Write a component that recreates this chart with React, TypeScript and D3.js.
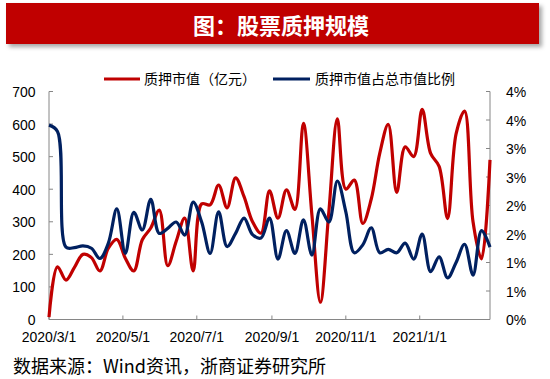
import React from "react";
import * as d3 from "d3";

const title = "图：股票质押规模";
const source = "数据来源：Wind资讯，浙商证券研究所";
const seriesNames = ["质押市值（亿元）", "质押市值占总市值比例"];

// weekly observations starting 2020/3/1
const startDate = "2020-03-01";
const endDate = "2021-02-28";

// 质押市值（亿元）
const pledgeValue = [
  7, 162, 121, 160, 200, 190, 149, 219, 246, 188, 149, 245, 281, 336, 165, 240,
  311, 149, 355, 352, 413, 343, 435, 377, 300, 265, 395, 311, 398, 338, 602, 321,
  53, 331, 616, 400, 428, 295, 370, 510, 599, 390, 530, 500, 645, 510, 470, 310,
  570, 640, 300, 186, 490,
];

// 质押市值占总市值比例 (%)
const pledgeRatio = [
  3.41, 3.3, 1.27, 1.26, 1.29, 1.25, 1.07, 1.34, 1.94, 1.16, 1.88, 1.57, 2.11,
  1.51, 1.6, 1.71, 1.48, 2.06, 1.71, 1.16, 1.89, 1.28, 1.51, 1.78, 1.49, 1.43,
  1.78, 1.06, 1.56, 1.16, 1.75, 1.13, 1.94, 1.71, 2.43, 1.89, 1.17, 1.31, 1.61,
  1.17, 1.23, 1.17, 1.34, 1.06, 1.5, 0.84, 1.1, 0.73, 1.0, 1.32, 0.78, 1.56, 1.27,
];

const leftTicks = [0, 100, 200, 300, 400, 500, 600, 700];
const rightTickValues = [0, 0.5, 1, 1.5, 2, 2.5, 3, 3.5, 4];
const rightTickLabels = ["0%", "1%", "1%", "2%", "2%", "3%", "3%", "4%", "4%"];
const xTickDates = ["2020-03-01", "2020-05-01", "2020-07-01", "2020-09-01", "2020-11-01", "2021-01-01"];
const xTickLabels = ["2020/3/1", "2020/5/1", "2020/7/1", "2020/9/1", "2020/11/1", "2021/1/1"];

const parse = d3.timeParse("%Y-%m-%d");

export default function App() {
  const W = 550;
  const H = 379;
  const plot = { left: 49, right: 490, top: 91.5, bottom: 319.5 };

  const start = parse(startDate) as Date;
  const dates = pledgeValue.map((_, i) => d3.timeDay.offset(start, 7 * i));

  const x = d3
    .scaleTime()
    .domain([start, parse(endDate) as Date])
    .range([plot.left, plot.right]);
  const yL = d3.scaleLinear().domain([0, 700]).range([plot.bottom, plot.top]);
  const yR = d3.scaleLinear().domain([0, 4]).range([plot.bottom, plot.top]);

  const lineL = d3
    .line<number>()
    .x((_, i) => x(dates[i]))
    .y((d) => yL(d))
    .curve(d3.curveCatmullRom);
  const lineR = d3
    .line<number>()
    .x((_, i) => x(dates[i]))
    .y((d) => yR(d))
    .curve(d3.curveCatmullRom);

  const axisColor = "#868686";
  const latin = "'Liberation Sans', Arial, sans-serif";
  const cjk = "'Noto Sans CJK SC', 'Liberation Sans', sans-serif";
  const red = "#C00000";
  const navy = "#002060";

  return (
    <svg
      width={W}
      height={H}
      viewBox={`0 0 ${W} ${H}`}
      style={{ position: "absolute", left: 0, top: 0, background: "#fff" }}
    >
      <defs>
        <filter id="shadow" x="-5%" y="-20%" width="115%" height="160%">
          <feDropShadow dx="3" dy="3" stdDeviation="2" floodColor="#000" floodOpacity="0.35" />
        </filter>
      </defs>
      <rect x={0} y={0} width={W} height={H} fill="#fff" />
      {/* title banner */}
      <rect x={6} y={3} width={533} height={41} fill={red} filter="url(#shadow)" />
      <text
        x={281}
        y={34}
        textAnchor="middle"
        fill="#fff"
        fontFamily={cjk}
        fontWeight="bold"
        fontSize={22}
      >
        {title}
      </text>

      {/* legend */}
      <line x1={104} x2={140} y1={79} y2={79} stroke={red} strokeWidth={3} />
      <text x={144} y={84} fontFamily={cjk} fontSize={14} fill="#000">
        {seriesNames[0]}
      </text>
      <line x1={273} x2={310} y1={79} y2={79} stroke={navy} strokeWidth={3} />
      <text x={315} y={84} fontFamily={cjk} fontSize={14} fill="#000">
        {seriesNames[1]}
      </text>

      {/* axes */}
      <g stroke={axisColor} strokeWidth={1} fill="none">
        <line x1={plot.left} x2={plot.left} y1={plot.top} y2={plot.bottom} />
        <line x1={plot.right} x2={plot.right} y1={plot.top} y2={plot.bottom} />
        <line x1={plot.left} x2={plot.right} y1={plot.bottom} y2={plot.bottom} />
        {leftTicks.map((t) => (
          <line key={"lt" + t} x1={plot.left} x2={plot.left + 4} y1={yL(t)} y2={yL(t)} />
        ))}
        {rightTickValues.map((t) => (
          <line key={"rt" + t} x1={plot.right - 4} x2={plot.right} y1={yR(t)} y2={yR(t)} />
        ))}
        {xTickDates.map((d) => {
          const xx = x(parse(d) as Date);
          return <line key={"xt" + d} x1={xx} x2={xx} y1={plot.bottom - 4} y2={plot.bottom} />;
        })}
      </g>
      <g fontFamily={latin} fontSize={14} fill="#000">
        {leftTicks.map((t) => (
          <text key={"ll" + t} x={35.5} y={yL(t) + 5.5} textAnchor="end">
            {t}
          </text>
        ))}
        {rightTickValues.map((t, i) => (
          <text key={"rl" + t} x={506} y={yR(t) + 5.5} textAnchor="start">
            {rightTickLabels[i]}
          </text>
        ))}
        {xTickDates.map((d, i) => (
          <text key={"xl" + d} x={x(parse(d) as Date)} y={341.5} textAnchor="middle">
            {xTickLabels[i]}
          </text>
        ))}
      </g>

      {/* series */}
      <path d={lineL(pledgeValue) || ""} fill="none" stroke={red} strokeWidth={3.2} strokeLinejoin="round" />
      <path d={lineR(pledgeRatio) || ""} fill="none" stroke={navy} strokeWidth={3.2} strokeLinejoin="round" />

      {/* source */}
      <text x={13} y={373} fontFamily={cjk} fontSize={18} fill="#000">
        {source}
      </text>
    </svg>
  );
}
